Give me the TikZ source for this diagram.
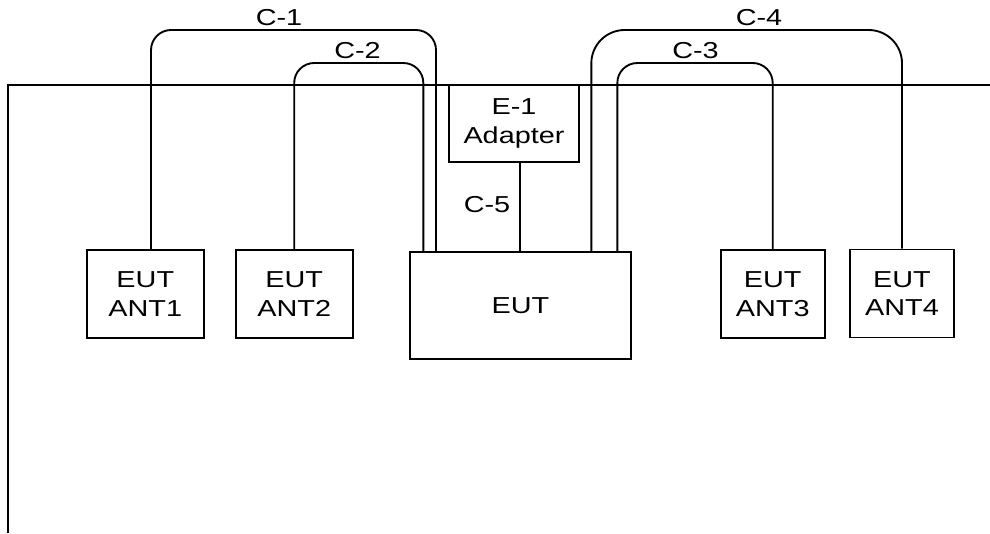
\documentclass[tikz,border=0pt]{standalone}
\usepackage{fontspec}
\setmainfont{Liberation Sans}[FakeStretch=1.25]
\begin{document}
\begin{tikzpicture}[x=0.75pt,y=-0.75pt,
  line width=1.4pt,
  box/.style={draw, line width=1.4pt, inner sep=0pt, align=center, font=\fontsize{17.3}{21.5}\selectfont},
  lbl/.style={inner sep=0pt, font=\fontsize{17.3}{21.5}\selectfont},
  cable/.style={line width=1.4pt, rounded corners=15pt}]
\useasboundingbox (0,0) rectangle (990,533);
% wall / table edge
\draw (8,533) -- (8,85) -- (990,85);
% boxes
\node[box, minimum width=88pt, minimum height=66pt] (ant1) at (145.3,294) {EUT\\ANT1};
\node[box, minimum width=87.75pt, minimum height=66pt] (ant2) at (294.2,294) {EUT\\ANT2};
\node[box, minimum width=78pt, minimum height=66pt] (ant3) at (772.7,294) {EUT\\ANT3};
\node[box, minimum width=78pt, minimum height=66pt] (ant4) at (902,293.5) {EUT\\ANT4};
\node[box, minimum width=165.5pt, minimum height=80.7pt] (eut) at (520.4,305.5) {EUT};
\node[box, minimum width=97.5pt, minimum height=57.75pt] (adapter) at (514,123.5) {E-1\\Adapter};
% cable route coordinates
\coordinate (c1) at (279,30);
\coordinate (c2) at (357,63);
\coordinate (c3) at (695,63);
\coordinate (c4) at (759,30);
% cables
\draw[cable] ([xshift=4.3pt]ant1.north) |- (c1) -| ([xshift=-63.3pt]eut.north);
\draw[cable] (ant2.north) |- (c2) -| ([xshift=-72.8pt]eut.north);
\draw[cable] (ant3.north) |- (c3) -| ([xshift=72.7pt]eut.north);
\draw[cable, rounded corners=25pt] (ant4.north) |- (c4) -| ([xshift=53.2pt]eut.north);
\draw (adapter.south -| eut.north) -- (eut.north);
% labels
\node[lbl] (l1) at (279,18) {C-1};
\node[lbl] (l2) at (357.5,50.5) {C-2};
\node[lbl] (l3) at (695.5,50.5) {C-3};
\node[lbl] (l4) at (759,17.5) {C-4};
\node[lbl] (l5) at (487,205) {C-5};
\end{tikzpicture}
\end{document}
